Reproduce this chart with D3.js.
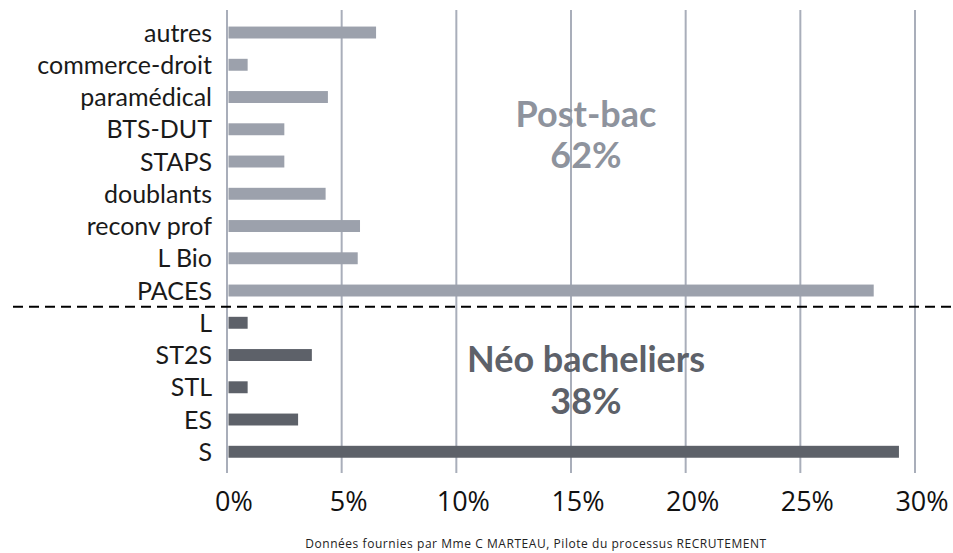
<!DOCTYPE html>
<html>
<head>
<meta charset="utf-8">
<script src="https://cdn.jsdelivr.net/npm/d3@7"></script>
<style>
  body { margin: 0; background: #fff; }
  svg { display: block; }
</style>
</head>
<body>
<div class="chart"></div>
<script>
// categories from top to bottom
const postBac = ["autres", "commerce-droit", "paramédical", "BTS-DUT", "STAPS", "doublants", "reconv prof", "L Bio", "PACES"];
const postBacValues = [6.5, 0.9, 4.4, 2.5, 2.5, 4.3, 5.8, 5.7, 28.2];
const neoBac = ["L", "ST2S", "STL", "ES", "S"];
const neoBacValues = [0.9, 3.7, 0.9, 3.1, 29.3];
const ticks = [0, 5, 10, 15, 20, 25, 30];
const groupLabels = [["Post-bac", "62%"], ["Néo bacheliers", "38%"]];
const note = "Données fournies par Mme C MARTEAU, Pilote du processus RECRUTEMENT";

const w = 953;
const h = 553;

const lightBar = "#9ca1ac";
const darkBar = "#5d6169";
const gridColor = "#a9aeba";

const rows = postBac.map((c, i) => ({ cat: c, v: postBacValues[i], grp: 0 }))
  .concat(neoBac.map((c, i) => ({ cat: c, v: neoBacValues[i], grp: 1 })));

const svg = d3.select(".chart")
  .append("svg")
  .attr("width", w)
  .attr("height", h)
  .style("background-color", "white");

const x = d3.scaleLinear().domain([0, 30]).range([227, 915]);
const y = d3.scaleBand()
  .domain(rows.map(d => d.cat))
  .range([16.4, 467.9])
  .paddingInner(0.63)
  .paddingOuter(0.315);

// vertical gridlines
svg.selectAll("line.grid")
  .data(ticks)
  .enter()
  .append("line")
  .attr("class", "grid")
  .attr("x1", d => x(d))
  .attr("x2", d => x(d))
  .attr("y1", 10)
  .attr("y2", 473)
  .attr("stroke", gridColor)
  .attr("stroke-width", 2);

// bars
svg.selectAll("rect")
  .data(rows)
  .enter()
  .append("rect")
  .attr("x", x(0) + 1.5)
  .attr("y", d => y(d.cat))
  .attr("width", d => x(d.v) - x(0) - 1.5)
  .attr("height", y.bandwidth())
  .attr("fill", d => d.grp === 0 ? lightBar : darkBar);

// category labels
svg.selectAll("text.cat")
  .data(rows)
  .enter()
  .append("text")
  .attr("class", "cat")
  .attr("x", 212)
  .attr("y", d => y(d.cat) + y.bandwidth() / 2)
  .attr("dy", "0.36em")
  .attr("text-anchor", "end")
  .style("font-family", "Lato, sans-serif")
  .style("font-size", "25px")
  .attr("fill", "#1a1a1a")
  .text(d => d.cat);

// x tick labels
svg.selectAll("text.tick")
  .data(ticks)
  .enter()
  .append("text")
  .attr("class", "tick")
  .attr("x", d => x(d) + 7)
  .attr("y", 511)
  .attr("text-anchor", "middle")
  .style("font-family", "'Open Sans', sans-serif")
  .style("font-size", "27px")
  .attr("fill", "#111")
  .text(d => d + "%");

// dashed separator between the two groups
const sepY = (y(postBac[postBac.length - 1]) + y(neoBac[0]) + y.bandwidth()) / 2;
svg.append("line")
  .attr("x1", 13)
  .attr("x2", w)
  .attr("y1", sepY)
  .attr("y2", sepY)
  .attr("stroke", "#000")
  .attr("stroke-width", 2)
  .attr("stroke-dasharray", "10,6");

// group annotations
const annot = [
  { lines: groupLabels[0], ys: [127, 168], color: "#8e939d" },
  { lines: groupLabels[1], ys: [372, 414], color: darkBar }
];
annot.forEach(a => {
  a.lines.forEach((t, i) => {
    svg.append("text")
      .attr("x", 586)
      .attr("y", a.ys[i])
      .attr("text-anchor", "middle")
      .style("font-family", "Lato, sans-serif")
      .style("font-weight", "bold")
      .style("font-size", "36px")
      .attr("fill", a.color)
      .text(t);
  });
});

// source note
svg.append("text")
  .attr("x", 536)
  .attr("y", 548)
  .attr("text-anchor", "middle")
  .style("font-family", "'Open Sans', sans-serif")
  .style("font-size", "12px")
  .style("letter-spacing", "0.55px")
  .attr("fill", "#222")
  .text(note);
</script>
</body>
</html>
